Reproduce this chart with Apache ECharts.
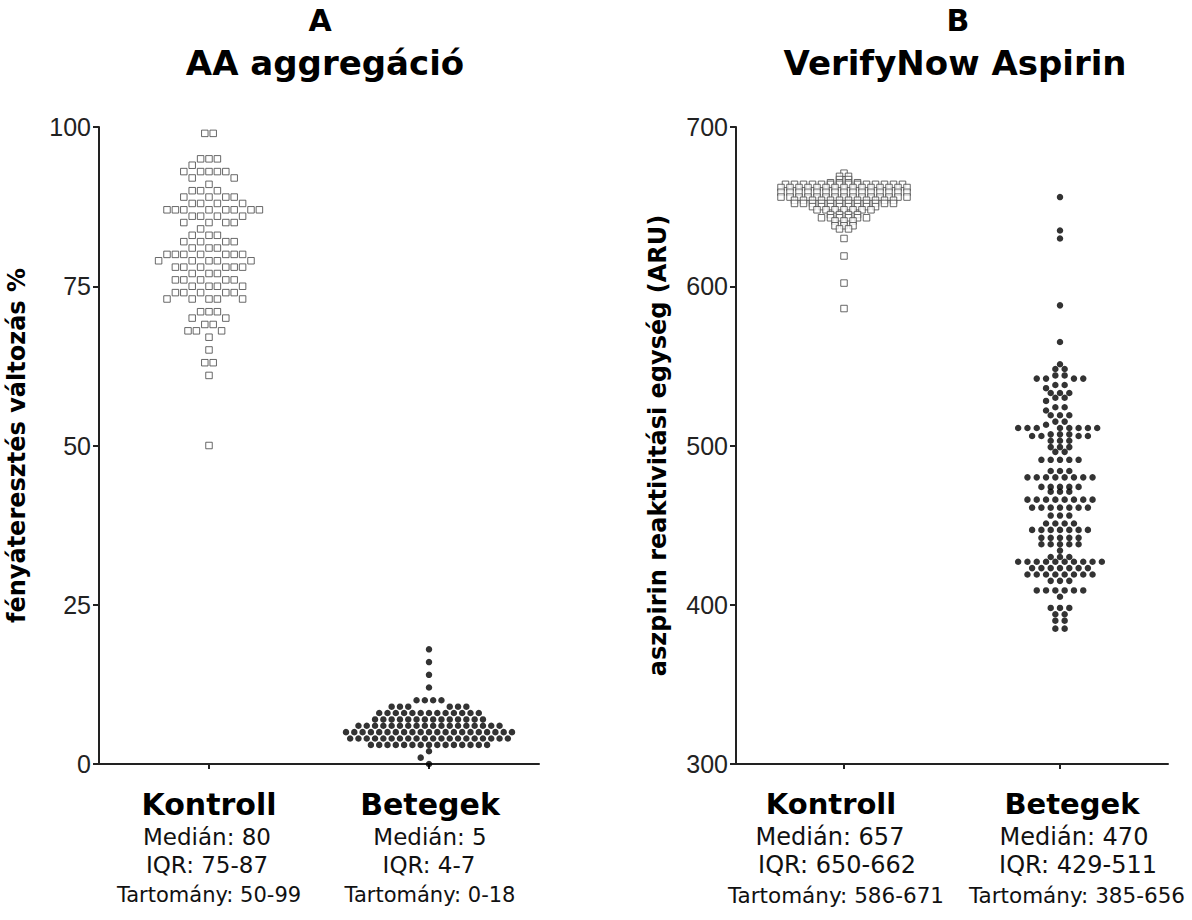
<!DOCTYPE html>
<html>
<head>
<meta charset="utf-8">
<script src="https://cdn.jsdelivr.net/npm/echarts@6/dist/echarts.min.js"></script>
<style>
html, body { margin: 0; padding: 0; background: #ffffff; }
#chart { width: 1192px; height: 920px; }
</style>
</head>
<body>
<div id="chart"></div>
<script>
// ---------------- DATA ----------------
const categories = ['Kontroll', 'Betegek'];
const titlesA = ['A', 'AA aggregáció'];
const titlesB = ['B', 'VerifyNow Aspirin'];
const yNameA = 'fényáteresztés változás %';
const yNameB = 'aszpirin reaktivitási egység (ARU)';
const ticksA = [0, 25, 50, 75, 100];
const ticksB = [300, 400, 500, 600, 700];
const mediansA = ['80', '5'];
const iqrA = ['75-87', '4-7'];
const rangesA = ['50-99', '0-18'];
const mediansB = ['657', '470'];
const iqrB = ['650-662', '429-511'];
const rangesB = ['586-671', '385-656'];

// A: AA aggregáció, Kontroll (%)
const aggKontroll = [
  99, 99,
  95, 95, 95,
  94,
  93, 93, 93, 93, 93,
  92, 92,
  91,
  90, 90, 90,
  89, 89, 89, 89,
  88, 88, 88, 88,
  87, 87, 87, 87, 87, 87, 87, 87,
  86, 86, 86, 86,
  85, 85, 85, 85,
  84,
  83, 83, 83,
  82, 82, 82, 82,
  81, 81, 81,
  80, 80, 80, 80, 80, 80, 80,
  79, 79, 79, 79, 79,
  78, 78, 78, 78, 78, 78,
  77, 77, 77,
  76, 76, 76, 76, 76,
  75, 75, 75, 75,
  74, 74, 74, 74, 74,
  73, 73, 73, 73, 73,
  71, 71, 71,
  70, 70,
  69, 69,
  68, 68, 68,
  67,
  65,
  63, 63,
  61,
  50
];
// A: AA aggregáció, Betegek (%)
const aggBetegek = [
  18, 16, 14, 12,
  10, 10, 10, 10,
  9, 9, 9, 9, 9, 9,
  8, 8, 8, 8, 8, 8, 8, 8, 8, 8, 8, 8, 8,
  7, 7, 7, 7, 7, 7, 7, 7, 7, 7, 7, 7, 7, 7,
  6, 6, 6, 6, 6, 6, 6, 6, 6, 6, 6, 6, 6, 6, 6, 6, 6, 6,
  5, 5, 5, 5, 5, 5, 5, 5, 5, 5, 5, 5, 5, 5, 5, 5, 5, 5, 5, 5, 5,
  4, 4, 4, 4, 4, 4, 4, 4, 4, 4, 4, 4, 4, 4, 4, 4, 4, 4, 4, 4,
  3, 3, 3, 3, 3, 3, 3, 3, 3, 3, 3, 3, 3, 3, 3,
  2, 1, 0
];
// B: VerifyNow Aspirin, Kontroll (ARU)
const vnKontroll = [
  671,
  669, 669,
  667, 667,
  665, 665, 665, 665,
  664, 664, 664, 664, 664, 664, 664, 664, 664, 664, 664, 664, 664, 664,
  662, 662, 662, 662, 662, 662, 662, 662, 662, 662, 662, 662, 662, 662, 662,
  659, 659, 659, 659, 659, 659, 659, 659, 659, 659, 659, 659, 659, 659, 659,
  656, 656, 656, 656, 656, 656, 656, 656, 656, 656, 656, 656, 656, 656, 656,
  654, 654, 654, 654, 654, 654, 654, 654, 654, 654, 654, 654,
  652, 652, 652, 652, 652, 652, 652, 652, 652, 652, 652, 652,
  650, 650, 650, 650, 650, 650, 650, 650,
  648, 648, 648, 648, 648, 648, 648,
  645, 645, 645, 645,
  643, 643, 643, 643, 643, 643,
  641, 641, 641,
  638, 638, 638,
  636, 636,
  630, 619, 602, 586
];
// B: VerifyNow Aspirin, Betegek (ARU)
const vnBetegek = [
  656, 635, 630, 588, 565,
  551, 548, 548, 544, 544, 542, 542, 542, 542,
  538, 538, 536, 533, 533, 533, 530, 530, 528,
  524, 524, 522, 519, 519, 519, 515, 515, 513,
  511, 511, 511, 511, 511, 511, 511, 511,
  507, 507, 507, 506, 506, 506, 506, 503, 503, 503,
  499, 499, 499, 496, 496,
  491, 491, 491, 491, 491,
  484, 484, 484,
  480, 480, 480, 480, 480, 480, 480, 480,
  474, 474, 474, 474, 474, 471, 471, 471,
  466, 466, 466, 466, 466, 466, 466, 466,
  461, 461, 461, 461, 461, 461, 461,
  456, 456, 456, 451, 451, 451, 451,
  447, 447, 447, 447, 447, 447, 447,
  442, 442, 442, 442, 442,
  438, 438, 438, 438, 438, 434,
  430, 430, 430,
  427, 427, 427, 427, 427, 427, 427, 427, 427, 427,
  423, 423, 423, 423, 423, 423, 423,
  419, 419, 419, 419, 419, 419, 419, 419,
  415, 415, 415,
  409, 409, 409, 409, 409, 409, 405,
  398, 398, 398, 394, 394, 390, 390, 385, 385
];

// ---------------- LAYOUT ----------------
const gridA = { left: 99, top: 127, width: 440, height: 637 };
const gridB = { left: 736, top: 127, width: 432, height: 637 };

// Beeswarm: horizontal offsets (pixels) computed from the values, then converted to axis units
function swarm(values, catPos, pxPerValue, pxPerUnit, s, dyT, maxHalf) {
  const counts = new Map();
  values.forEach(v => counts.set(v, (counts.get(v) || 0) + 1));
  const rows = Array.from(counts.keys()).sort((a, b) => b - a);
  const placed = [];
  const out = [];
  const eps = 1e-6;
  rows.forEach(v => {
    const n = counts.get(v);
    const y = v * pxPerValue;
    const nb = placed.filter(p => Math.abs(p.y - y) < dyT);
    const free = x => nb.every(p => Math.abs(p.x - x) >= s - eps);
    const centered = [];
    for (let i = 0; i < n; i++) centered.push((i - (n - 1) / 2) * s);
    let xs = centered;
    if (!centered.every(free)) {
      const mine = [];
      let leftFirst = true;
      for (let i = 0; i < n; i++) {
        let chosen = null;
        for (let k = 0; k < 400 && chosen === null; k++) {
          const c = k * s / 2;
          const cands = k === 0 ? [0] : (leftFirst ? [-c, c] : [c, -c]);
          for (const x of cands) {
            if (free(x) && mine.every(m => Math.abs(m - x) >= s - eps)) { chosen = x; break; }
          }
        }
        mine.push(chosen);
        if (chosen < 0) leftFirst = false; else if (chosen > 0) leftFirst = true;
      }
      const ext = Math.max.apply(null, mine.map(Math.abs));
      if (ext <= maxHalf) xs = mine;
    }
    xs.forEach(x => { placed.push({ x: x, y: y }); out.push([catPos + x / pxPerUnit, v]); });
  });
  return out;
}

const pxA = gridA.height / (ticksA[ticksA.length - 1] - ticksA[0]);
const pxB = gridB.height / (ticksB[ticksB.length - 1] - ticksB[0]);
const unitA = gridA.width / 2;
const unitB = gridB.width / 2;

const dataAK = swarm(aggKontroll, 1, pxA, unitA, 8.4, 7, 55);
const dataAB = swarm(aggBetegek, 2, pxA, unitA, 8.3, 7, 60);
const dataBK = swarm(vnKontroll, 1, pxB, unitB, 9, 2, 75);
const dataBB = swarm(vnBetegek, 2, pxB, unitB, 9.3, 4.5, 50);

// ---------------- STYLES ----------------
const AX = '#222222';
// horizontal nudges (px) of each label line, per category: [name, median, iqr, range]
const nudgeA = [[0, -2, -2, 0], [1, 1, 0, 1]];
const nudgeB = [[-13, -14, -7, -8], [12, 14, 18, 17]];
function pad(shift) {
  return shift < 0 ? [0, -2 * shift, 0, 0] : [0, 0, 0, 2 * shift];
}
function makeRich(nSize, mSize, rSize, nudges) {
  const rich = {};
  nudges.forEach((nd, i) => {
    rich['n' + i] = { fontFamily: 'DejaVu Sans', fontWeight: 'bold', fontSize: nSize, lineHeight: 36, color: '#000', padding: pad(nd[0]) };
    rich['m' + i] = { fontFamily: 'DejaVu Sans', fontSize: mSize, lineHeight: 30, color: '#111', padding: pad(nd[1]) };
    rich['q' + i] = { fontFamily: 'DejaVu Sans', fontSize: mSize, lineHeight: 26, color: '#111', padding: pad(nd[2]) };
    rich['r' + i] = { fontFamily: 'DejaVu Sans', fontSize: rSize, lineHeight: 34, color: '#111', padding: pad(nd[3]) };
  });
  return rich;
}
function catAxis(gridIndex, meds, iqrs, ranges, rich) {
  return {
    type: 'category', gridIndex: gridIndex, data: categories, boundaryGap: true,
    axisLine: { show: true, lineStyle: { color: AX, width: 2 } },
    axisTick: { show: true, alignWithLabel: true, length: 5, lineStyle: { color: AX, width: 2 } },
    axisLabel: {
      interval: 0, margin: 22,
      formatter: (v, i) => '{n' + i + '|' + v + '}\n{m' + i + '|Medián: ' + meds[i] + '}\n{q' + i + '|IQR: ' + iqrs[i] + '}\n{r' + i + '|Tartomány: ' + ranges[i] + '}',
      rich: rich
    },
    splitLine: { show: false }
  };
}
function valAxisX(gridIndex) {
  return { type: 'value', gridIndex: gridIndex, min: 0.5, max: 2.5, show: false };
}
function valAxisY(gridIndex, ticks, name, gap) {
  return {
    type: 'value', gridIndex: gridIndex,
    min: ticks[0], max: ticks[ticks.length - 1], interval: ticks[1] - ticks[0],
    name: name, nameLocation: 'middle', nameGap: gap,
    nameTextStyle: { fontFamily: 'DejaVu Sans', fontWeight: 'bold', fontSize: 24, color: '#000' },
    axisLine: { show: true, lineStyle: { color: AX, width: 2 } },
    axisTick: { show: true, length: 6, lineStyle: { color: AX, width: 2 } },
    axisLabel: { show: true, margin: 8, fontFamily: 'Liberation Sans', fontSize: 25, color: '#222' },
    splitLine: { show: false }
  };
}
const squareStyle = { color: '#ffffff', borderColor: '#444444', borderWidth: 1 };
const dotStyle = { color: '#000000' };

const titleFontSmall = 'bold 30px "DejaVu Sans"';
const titleFontBig = 'bold 34px "DejaVu Sans"';
function titleText(x, y, text, font) {
  return { type: 'text', x: x, y: y, silent: true,
    style: { text: text, font: font, fill: '#000', textAlign: 'center', textVerticalAlign: 'middle', align: 'center', verticalAlign: 'middle' } };
}

const option = {
  animation: false,
  backgroundColor: '#ffffff',
  grid: [gridA, gridB],
  xAxis: [
    catAxis(0, mediansA, iqrA, rangesA, makeRich(30, 23, 21, nudgeA)), valAxisX(0),
    catAxis(1, mediansB, iqrB, rangesB, makeRich(29, 24, 21.5, nudgeB)), valAxisX(1)
  ],
  yAxis: [valAxisY(0, ticksA, yNameA, 70), valAxisY(1, ticksB, yNameB, 66)],
  graphic: [
    titleText(320, 20, titlesA[0], titleFontSmall),
    titleText(325, 63, titlesA[1], titleFontBig),
    titleText(958, 20, titlesB[0], titleFontSmall),
    titleText(955, 63, titlesB[1], titleFontBig)
  ],
  series: [
    { type: 'scatter', name: 'A Kontroll', xAxisIndex: 1, yAxisIndex: 0, data: dataAK, symbol: 'rect', symbolSize: 6.5, itemStyle: squareStyle, silent: true },
    { type: 'scatter', name: 'A Betegek', xAxisIndex: 1, yAxisIndex: 0, data: dataAB, symbol: 'circle', symbolSize: 6.5, itemStyle: dotStyle, silent: true },
    { type: 'scatter', name: 'B Kontroll', xAxisIndex: 3, yAxisIndex: 1, data: dataBK, symbol: 'rect', symbolSize: 6.5, itemStyle: squareStyle, silent: true },
    { type: 'scatter', name: 'B Betegek', xAxisIndex: 3, yAxisIndex: 1, data: dataBB, symbol: 'circle', symbolSize: 6.5, itemStyle: dotStyle, silent: true }
  ]
};

const chart = echarts.init(document.getElementById('chart'), null, { renderer: 'svg' });
chart.setOption(option);
</script>
</body>
</html>
